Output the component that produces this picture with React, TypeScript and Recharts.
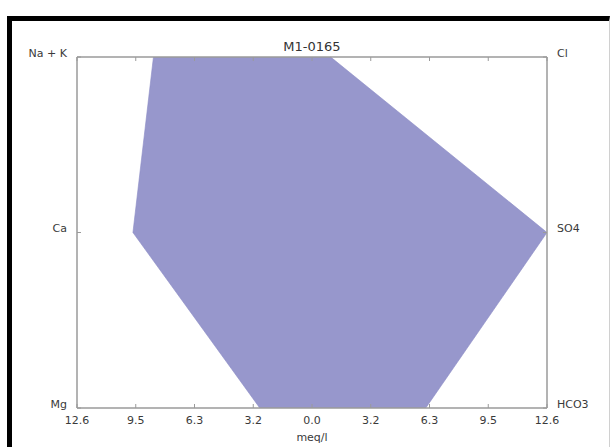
import React from 'react';
import { ComposedChart, Area, XAxis, YAxis } from 'recharts';

const levels = [0, 1, 2];
const cations = ['Mg', 'Ca', 'Na + K'];
const anions = ['HCO3', 'SO4', 'Cl'];
const cationValues = [2.8, 9.6, 8.5];
const anionValues = [6.1, 12.6, 1.0];
const xTicks = [-12.6, -9.45, -6.3, -3.15, 0, 3.15, 6.3, 9.45, 12.6];
const xTickLabels = ['12.6', '9.5', '6.3', '3.2', '0.0', '3.2', '6.3', '9.5', '12.6'];
const title = 'M1-0165';
const unitLabel = 'meq/l';

const data = levels.map((level, i) => ({
  level,
  range: [-cationValues[i], anionValues[i]],
}));

const FONT = '"DejaVu Sans", sans-serif';
const TEXT = '#3a3a3a';
const BOX = '#9a9a9a';

const labelIndex = (v: number) => {
  let best = 0;
  xTicks.forEach((t, i) => {
    if (Math.abs(t - v) < Math.abs(xTicks[best] - v)) best = i;
  });
  return best;
};

const BottomTick = (props: any) => {
  const { x, y, payload } = props;
  const i = labelIndex(payload.value);
  return (
    <g>
      <line x1={x} y1={y} x2={x} y2={y - 4} stroke={BOX} strokeWidth={1} />
      <text x={x} y={y + 12} textAnchor="middle" dominantBaseline="central" fontFamily={FONT} fontSize={11} fill={TEXT}>
        {xTickLabels[i]}
      </text>
    </g>
  );
};

const TopTick = (props: any) => {
  const { x, y } = props;
  return <line x1={x} y1={y} x2={x} y2={y + 4} stroke={BOX} strokeWidth={1} />;
};

const LeftTick = (props: any) => {
  const { x, y, payload } = props;
  const i = levels.indexOf(payload.value);
  return (
    <g>
      <line x1={x} y1={y} x2={x + 4} y2={y} stroke={BOX} strokeWidth={1} />
      <text x={x - 10} y={y - 4} textAnchor="end" dominantBaseline="central" fontFamily={FONT} fontSize={11} fill={TEXT}>
        {cations[i]}
      </text>
    </g>
  );
};

const RightTick = (props: any) => {
  const { x, y, payload } = props;
  const i = levels.indexOf(payload.value);
  return (
    <g>
      <line x1={x} y1={y} x2={x - 4} y2={y} stroke={BOX} strokeWidth={1} />
      <text x={x + 10} y={y - 4} textAnchor="start" dominantBaseline="central" fontFamily={FONT} fontSize={11} fill={TEXT}>
        {anions[i]}
      </text>
    </g>
  );
};

export default function App() {
  return (
    <div style={{ position: 'absolute', left: 0, top: 0, width: 614, height: 447, background: '#fff', overflow: 'hidden' }}>
      <div
        style={{
          position: 'absolute',
          left: 7,
          top: 16,
          width: 597,
          height: 450,
          borderLeft: '5px solid #000',
          borderTop: '5px solid #000',
          borderRight: '1px solid #d0d0d0',
        }}
      />
      <div style={{ position: 'absolute', left: 0, top: 0 }}>
        <ComposedChart
          layout="vertical"
          width={614}
          height={447}
          data={data}
          margin={{ top: 56, right: 0, bottom: 0, left: 0 }}
        >
          <XAxis
            xAxisId="bottom"
            type="number"
            orientation="bottom"
            domain={[-12.6, 12.6]}
            ticks={xTicks}
            allowDataOverflow
            height={39}
            tickSize={0}
            tickMargin={0}
            tickLine={false}
            axisLine={{ stroke: BOX, strokeWidth: 1.5 }}
            tick={<BottomTick />}
            interval={0}
          />
          <XAxis
            xAxisId="top"
            type="number"
            orientation="top"
            domain={[-12.6, 12.6]}
            ticks={xTicks}
            allowDataOverflow
            height={1}
            tickSize={0}
            tickMargin={0}
            tickLine={false}
            axisLine={{ stroke: BOX, strokeWidth: 1.5 }}
            tick={<TopTick />}
            interval={0}
          />
          <YAxis
            yAxisId="left"
            type="number"
            dataKey="level"
            orientation="left"
            domain={[0, 2]}
            ticks={levels}
            reversed
            width={77}
            tickSize={0}
            tickMargin={0}
            tickLine={false}
            axisLine={{ stroke: BOX, strokeWidth: 1.5 }}
            tick={<LeftTick />}
            interval={0}
          />
          <YAxis
            yAxisId="right"
            type="number"
            dataKey="level"
            orientation="right"
            domain={[0, 2]}
            ticks={levels}
            reversed
            width={67}
            tickSize={0}
            tickMargin={0}
            tickLine={false}
            axisLine={{ stroke: BOX, strokeWidth: 1.5 }}
            tick={<RightTick />}
            interval={0}
          />
          <Area
            xAxisId="bottom"
            yAxisId="left"
            dataKey="range"
            type="linear"
            fill="#9797cc"
            fillOpacity={1}
            stroke="#8a8ac4"
            strokeWidth={0.6}
            isAnimationActive={false}
          />
        </ComposedChart>
      </div>
      <div style={{ position: 'absolute', left: 212, width: 200, top: 39, textAlign: 'center', fontFamily: FONT, fontSize: 13, color: '#333', lineHeight: '16px' }}>
        {title}
      </div>
      <div style={{ position: 'absolute', left: 262, width: 100, top: 431, textAlign: 'center', fontFamily: FONT, fontSize: 11, color: TEXT, lineHeight: '14px' }}>
        {unitLabel}
      </div>
    </div>
  );
}
